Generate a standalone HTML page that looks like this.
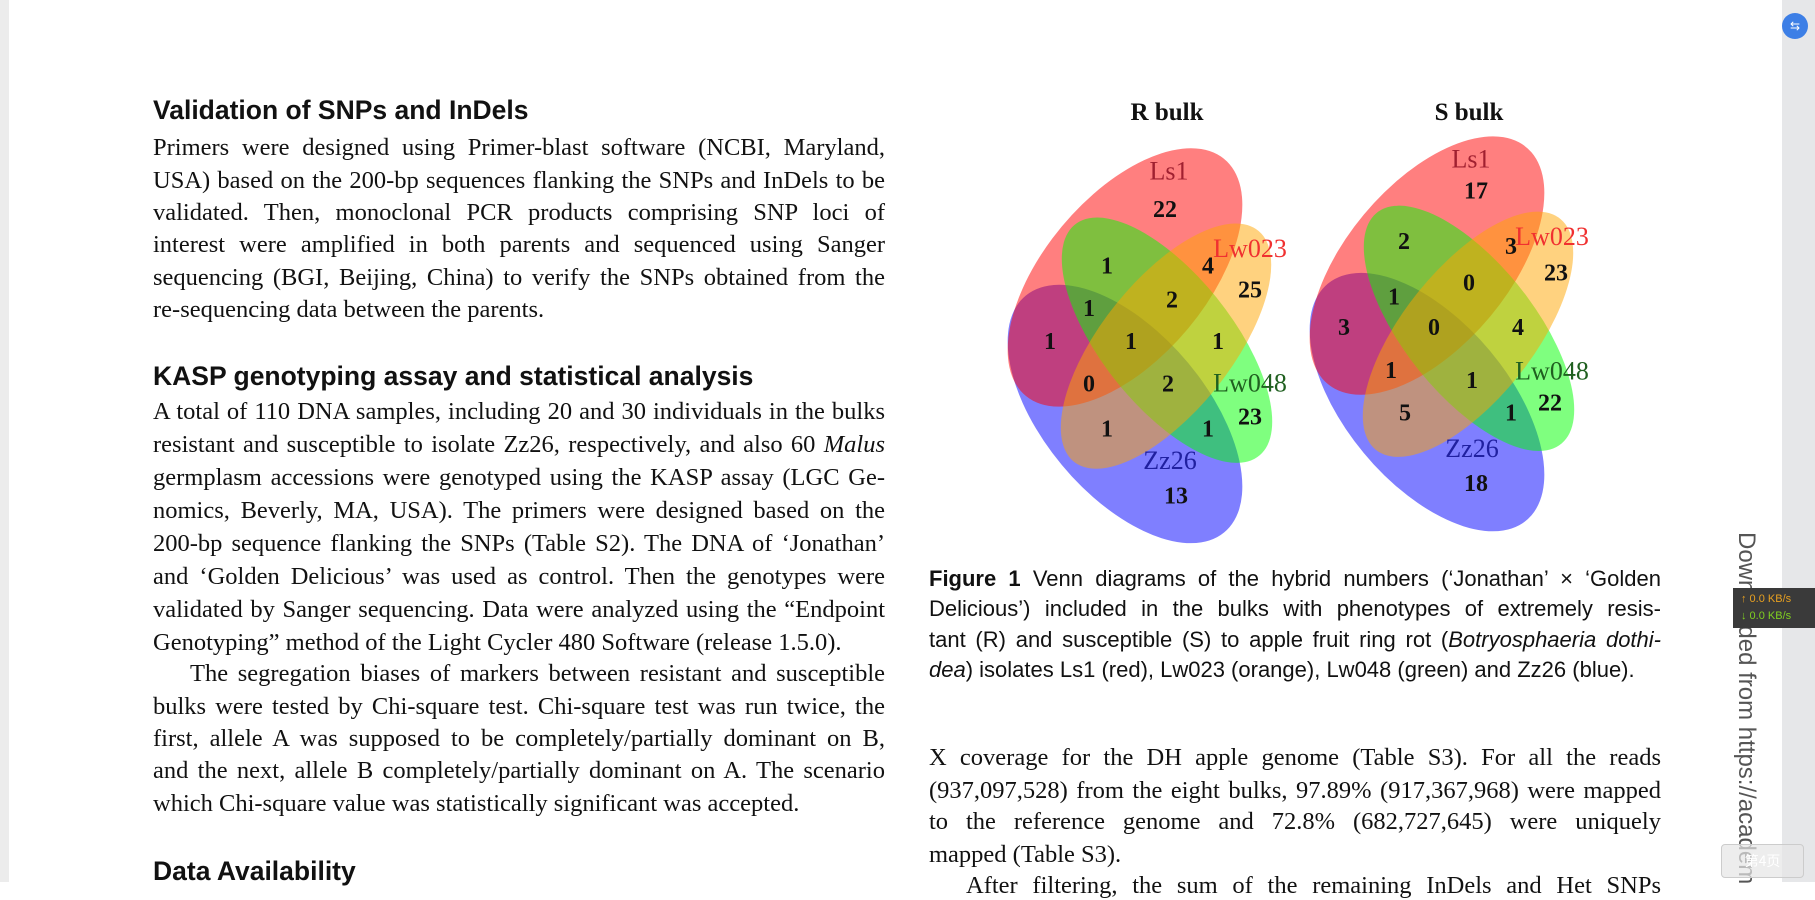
<!DOCTYPE html>
<html><head><meta charset="utf-8">
<style>
body{margin:0;width:1815px;height:882px;overflow:hidden;background:#fff;position:relative;font-family:"Liberation Serif",serif;}
.l{position:absolute;left:153px;width:732px;font-size:24.5px;line-height:28px;text-align:justify;text-align-last:justify;white-space:nowrap;color:#111;}
.l.last{text-align-last:left;}
.r{left:929px;width:732px;}
.h{position:absolute;left:153px;font-family:"Liberation Sans",sans-serif;font-weight:bold;font-size:26.5px;color:#111;}
.cap{position:absolute;left:929px;width:732px;font-family:"Liberation Sans",sans-serif;font-size:22px;line-height:26px;text-align:justify;text-align-last:justify;white-space:nowrap;color:#111;}
</style></head><body>
<div style="position:absolute;left:0;top:0;width:9px;height:882px;background:#ececec"></div>
<div style="position:absolute;left:1782px;top:0;width:33px;height:882px;background:#e6e7e9"></div>

<div class="h" style="top:95px">Validation of SNPs and InDels</div>
<div class="l" style="top:134px">Primers were designed using Primer-blast software (NCBI, Maryland,</div>
<div class="l" style="top:167px">USA) based on the 200-bp sequences flanking the SNPs and InDels to be</div>
<div class="l" style="top:199px">validated. Then, monoclonal PCR products comprising SNP loci of</div>
<div class="l" style="top:231px">interest were amplified in both parents and sequenced using Sanger</div>
<div class="l" style="top:264px">sequencing (BGI, Beijing, China) to verify the SNPs obtained from the</div>
<div class="l last" style="top:296px">re-sequencing data between the parents.</div>

<div class="h" style="top:361px">KASP genotyping assay and statistical analysis</div>
<div class="l" style="top:398px">A total of 110 DNA samples, including 20 and 30 individuals in the bulks</div>
<div class="l" style="top:431px">resistant and susceptible to isolate Zz26, respectively, and also 60 <i>Malus</i></div>
<div class="l" style="top:464px">germplasm accessions were genotyped using the KASP assay (LGC Ge-</div>
<div class="l" style="top:497px">nomics, Beverly, MA, USA). The primers were designed based on the</div>
<div class="l" style="top:530px">200-bp sequence flanking the SNPs (Table S2). The DNA of ‘Jonathan’</div>
<div class="l" style="top:563px">and ‘Golden Delicious’ was used as control. Then the genotypes were</div>
<div class="l" style="top:596px">validated by Sanger sequencing. Data were analyzed using the “Endpoint</div>
<div class="l last" style="top:629px">Genotyping” method of the Light Cycler 480 Software (release 1.5.0).</div>
<div class="l" style="top:660px;left:190px;width:695px">The segregation biases of markers between resistant and susceptible</div>
<div class="l" style="top:693px">bulks were tested by Chi-square test. Chi-square test was run twice, the</div>
<div class="l" style="top:725px">first, allele A was supposed to be completely/partially dominant on B,</div>
<div class="l" style="top:757px">and the next, allele B completely/partially dominant on A. The scenario</div>
<div class="l last" style="top:790px">which Chi-square value was statistically significant was accepted.</div>
<div class="h" style="top:856px">Data Availability</div>

<svg id="venn" style="position:absolute;left:0;top:0" width="1815" height="882"></svg>

<div class="cap" style="top:566px"><b>Figure 1</b> Venn diagrams of the hybrid numbers (‘Jonathan’ × ‘Golden</div>
<div class="cap" style="top:596px">Delicious’) included in the bulks with phenotypes of extremely resis-</div>
<div class="cap" style="top:627px">tant (R) and susceptible (S) to apple fruit ring rot (<i>Botryosphaeria dothi-</i></div>
<div class="cap" style="top:657px;text-align-last:left"><i>dea</i>) isolates Ls1 (red), Lw023 (orange), Lw048 (green) and Zz26 (blue).</div>

<div class="l r" style="top:744px">X coverage for the DH apple genome (Table S3). For all the reads</div>
<div class="l r" style="top:777px">(937,097,528) from the eight bulks, 97.89% (917,367,968) were mapped</div>
<div class="l r" style="top:808px">to the reference genome and 72.8% (682,727,645) were uniquely</div>
<div class="l r last" style="top:841px">mapped (Table S3).</div>
<div class="l r" style="top:872px;left:966px;width:695px">After filtering, the sum of the remaining InDels and Het SNPs</div>

<div style="position:absolute;left:1736px;top:532px;transform-origin:0 0;transform:translate(24px,0) rotate(90deg);font-family:'Liberation Sans',sans-serif;font-size:24px;color:#555;white-space:nowrap">Downloaded from https://academ</div>
<div style="position:absolute;left:1782px;top:13px;width:26px;height:26px;border-radius:50%;background:#3d7fe6;color:#fff;font-size:12px;text-align:center;line-height:26px;font-family:'Liberation Sans',sans-serif">⇆</div>
<div style="position:absolute;left:1733px;top:588px;width:82px;height:40px;background:#3a3a3a;font-family:'Liberation Sans',sans-serif;font-size:11px;line-height:17px;padding:3px 0 0 8px;box-sizing:border-box"><div style="color:#e8a020">↑ 0.0 KB/s</div><div style="color:#7fd020">↓ 0.0 KB/s</div></div>
<div style="position:absolute;left:1721px;top:844px;width:81px;height:32px;border:1px solid #ccc;border-radius:4px;background:rgba(230,230,230,0.7);color:#fff;font-size:14px;text-align:center;line-height:32px;font-family:'Noto Sans CJK SC',sans-serif">第4页</div>

<script>
// Venn data: region counts, same region order for both bulks
const sets = ['Ls1','Lw023','Lw048','Zz26'];
const rCounts = [22,25,23,13,1,4,2,1,1,1,1,0,2,1,1];
const sCounts = [17,23,22,18,2,3,0,1,3,0,4,1,1,5,1];
// layout (not data): label anchor per region, per diagram (pre vertical squash)
const rPos = [[1165,232],[1250,327],[1250,477],[1176,570],[1107,299],[1208,299],[1172,339],[1089,349],[1050,388],[1131,388],[1218,388],[1089,438],[1168,438],[1107,491],[1208,491]];
const sPos = [[1476,210],[1556,307],[1550,460],[1476,555],[1404,270],[1511,276],[1469,319],[1394,335],[1344,371],[1434,371],[1518,371],[1391,422],[1472,434],[1405,472],[1511,472]];
const Y0=73.5, KY=0.848;
function sy(y){return Y0+(y-Y0)*KY;}
const ns='http://www.w3.org/2000/svg';
const svg=document.getElementById('venn');
function mk(t,a,p){const e=document.createElementNS(ns,t);for(const k in a)e.setAttribute(k,a[k]);(p||svg).appendChild(e);return e;}
function diagram(dx,dy,title,counts,pos){
  const t=mk('text',{x:1167+dx,y:120,'text-anchor':'middle','font-family':'Liberation Serif,serif','font-weight':'bold','font-size':25,fill:'#111'});
  t.textContent=title;
  
  
  const g=mk('g',{transform:`translate(0 ${Y0}) scale(1 ${KY}) translate(0 ${-Y0})`});
  // draw order: Zz26, Ls1, Lw048, Lw023
  const ells=[[1125,475,172,86,57.6,'rgba(0,0,255,0.5)',3],[1125,314,172,86,-57.6,'rgba(255,0,0,0.5)',0],[1167,388,165,69,58,'rgba(0,255,0,0.5)',2],[1166,395,165,69,-58,'rgba(255,165,0,0.5)',1]];
  ells.forEach(e=>{
    const el=mk('ellipse',{cx:e[0]+dx,cy:e[1]+dy,rx:e[2],ry:e[3],fill:e[5],transform:`rotate(${e[4]} ${e[0]+dx} ${e[1]+dy})`},g);
    
    
  });
  const labs=[[1169,188,'Ls1','#a02030'],[1250,279,'Lw023','#f03030'],[1250,438,'Lw048','#206020'],[1170,529,'Zz26','#2020a0']];
  labs.forEach(l=>{
    const tx=mk('text',{x:l[0]+dx,y:sy(l[1]+dy)+9,'text-anchor':'middle','font-family':'Liberation Serif,serif','font-size':26,fill:l[3]});
    tx.textContent=l[2];
    
    
  });
  counts.forEach((c,i)=>{
    const tx=mk('text',{x:pos[i][0],y:sy(pos[i][1])+9,'text-anchor':'middle','font-family':'Liberation Serif,serif','font-weight':'bold','font-size':24,fill:'#111'});
    tx.textContent=c;
    
    
  });
}
diagram(0,0,'R bulk',rCounts,rPos);
diagram(302,-14,'S bulk',sCounts,sPos);
</script>
</body></html>
